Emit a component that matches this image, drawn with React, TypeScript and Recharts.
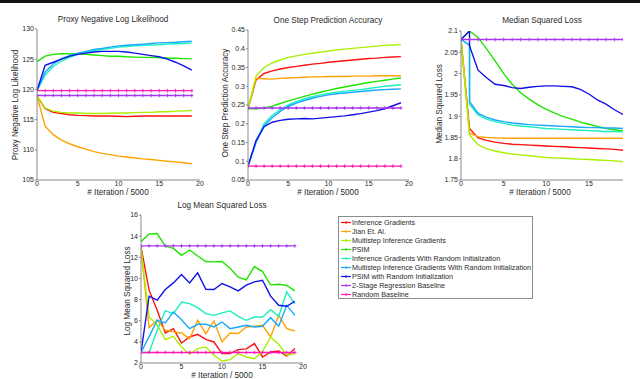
import { LineChart, Line, XAxis, YAxis, Legend } from 'recharts';

// x positions (iteration / 5000)
const ITER = [0, 1, 2, 3, 4, 5, 6, 7, 8, 9, 10, 11, 12, 13, 14, 15, 16, 17, 18, 19];
// median loss: the random-init runs drop straight down at x = 1
const ITER_STEP = [0, 1, 1, 2, 3, 4, 5, 6, 7, 8, 9, 10, 11, 12, 13, 14, 15, 16, 17, 18, 19];

const SERIES = [
  { key: 'ig', name: 'Inference Gradients', color: '#ff1010' },
  { key: 'jian', name: 'Jian Et. Al.', color: '#ffa200' },
  { key: 'mig', name: 'Multistep Inference Gradients', color: '#a8f000' },
  { key: 'psim', name: 'PSIM', color: '#20e400' },
  { key: 'igr', name: 'Inference Gradients With Random Initialization', color: '#18f0c0' },
  { key: 'migr', name: 'Multistep Inference Gradients With Random Initialization', color: '#18a8ff' },
  { key: 'psimr', name: 'PSIM with Random Initialization', color: '#1010e8' },
  { key: 'twostage', name: '2-Stage Regression Baseline', color: '#a836f0' },
  { key: 'random', name: 'Random Baseline', color: '#ff18b4' },
];

// Proxy Negative Log Likelihood
const NLL_IG = [118.9, 116.8, 116.2, 116.0, 115.8, 115.7, 115.65, 115.6, 115.6, 115.6, 115.55, 115.5, 115.55, 115.6, 115.6, 115.6, 115.6, 115.6, 115.6, 115.6];
const NLL_JIAN = [118.9, 113.9, 112.5, 111.6, 111.0, 110.5, 110.1, 109.7, 109.4, 109.2, 108.95, 108.8, 108.65, 108.5, 108.4, 108.25, 108.1, 108.0, 107.85, 107.7];
const NLL_MIG = [118.9, 116.9, 116.4, 116.2, 116.1, 116.1, 116.0, 116.0, 116.0, 116.05, 116.1, 116.1, 116.15, 116.2, 116.2, 116.3, 116.3, 116.4, 116.45, 116.5];
const NLL_PSIM = [124.6, 125.5, 125.8, 125.9, 125.9, 125.9, 125.8, 125.7, 125.6, 125.5, 125.5, 125.4, 125.35, 125.3, 125.3, 125.25, 125.2, 125.15, 125.1, 125.05];
const NLL_IGR = [119.8, 122.4, 123.8, 124.7, 125.3, 125.8, 126.1, 126.4, 126.6, 126.8, 127.0, 127.1, 127.2, 127.3, 127.35, 127.4, 127.5, 127.55, 127.6, 127.7];
const NLL_MIGR = [119.8, 122.9, 124.2, 125.1, 125.6, 126.0, 126.3, 126.6, 126.8, 127.0, 127.2, 127.3, 127.4, 127.5, 127.6, 127.7, 127.75, 127.8, 127.9, 128.0];
const NLL_PSIMR = [119.8, 124.0, 124.5, 125.0, 125.5, 125.8, 126.0, 126.2, 126.3, 126.3, 126.3, 126.2, 126.0, 125.8, 125.6, 125.4, 125.0, 124.5, 123.9, 123.2];
const NLL_TWOSTAGE = [119, 119, 119, 119, 119, 119, 119, 119, 119, 119, 119, 119, 119, 119, 119, 119, 119, 119, 119, 119];
const NLL_RANDOM = [119.8, 119.8, 119.8, 119.8, 119.8, 119.8, 119.8, 119.8, 119.8, 119.8, 119.8, 119.8, 119.8, 119.8, 119.8, 119.8, 119.8, 119.8, 119.8, 119.8];

// One Step Prediction Accuracy
const ACC_IG = [0.24, 0.317, 0.334, 0.341, 0.346, 0.35, 0.353, 0.356, 0.359, 0.361, 0.364, 0.366, 0.368, 0.37, 0.372, 0.374, 0.375, 0.377, 0.378, 0.379];
const ACC_JIAN = [0.24, 0.321, 0.32, 0.319, 0.321, 0.322, 0.323, 0.324, 0.325, 0.325, 0.326, 0.326, 0.326, 0.327, 0.327, 0.327, 0.328, 0.328, 0.328, 0.328];
const ACC_MIG = [0.24, 0.327, 0.35, 0.362, 0.37, 0.377, 0.381, 0.385, 0.388, 0.391, 0.394, 0.397, 0.399, 0.401, 0.403, 0.405, 0.407, 0.409, 0.41, 0.411];
const ACC_PSIM = [0.24, 0.24, 0.242, 0.247, 0.254, 0.261, 0.267, 0.273, 0.279, 0.284, 0.289, 0.294, 0.298, 0.302, 0.306, 0.31, 0.313, 0.316, 0.319, 0.322];
const ACC_IGR = [0.087, 0.152, 0.2, 0.222, 0.238, 0.25, 0.259, 0.266, 0.272, 0.277, 0.281, 0.284, 0.287, 0.289, 0.291, 0.294, 0.297, 0.3, 0.302, 0.304];
const ACC_MIGR = [0.087, 0.15, 0.194, 0.216, 0.233, 0.246, 0.255, 0.262, 0.268, 0.273, 0.277, 0.28, 0.282, 0.284, 0.286, 0.288, 0.29, 0.291, 0.292, 0.293];
const ACC_PSIMR = [0.087, 0.155, 0.192, 0.204, 0.209, 0.212, 0.213, 0.214, 0.213, 0.215, 0.217, 0.219, 0.221, 0.224, 0.227, 0.231, 0.235, 0.24, 0.248, 0.256];
const ACC_TWOSTAGE = [0.242, 0.242, 0.242, 0.242, 0.242, 0.242, 0.242, 0.242, 0.242, 0.242, 0.242, 0.242, 0.242, 0.242, 0.242, 0.242, 0.242, 0.242, 0.242, 0.242];
const ACC_RANDOM = [0.087, 0.087, 0.087, 0.087, 0.087, 0.087, 0.087, 0.087, 0.087, 0.087, 0.087, 0.087, 0.087, 0.087, 0.087, 0.087, 0.087, 0.087, 0.087, 0.087];

// Median Squared Loss
const MED_IG = [2.08, 1.871, 1.849, 1.843, 1.839, 1.836, 1.834, 1.833, 1.832, 1.831, 1.83, 1.829, 1.828, 1.827, 1.826, 1.825, 1.824, 1.823, 1.822, 1.82];
const MED_JIAN = [2.08, 1.86, 1.852, 1.85, 1.849, 1.848, 1.848, 1.848, 1.848, 1.848, 1.848, 1.848, 1.848, 1.848, 1.848, 1.848, 1.848, 1.848, 1.848, 1.848];
const MED_MIG = [2.08, 1.856, 1.833, 1.823, 1.818, 1.814, 1.811, 1.809, 1.807, 1.805, 1.803, 1.802, 1.801, 1.8, 1.799, 1.798, 1.797, 1.796, 1.795, 1.793];
const MED_PSIM = [2.08, 2.1, 2.085, 2.058, 2.03, 2.0, 1.975, 1.955, 1.94, 1.927, 1.916, 1.907, 1.899, 1.893, 1.886, 1.881, 1.876, 1.871, 1.868, 1.865];
const MED_IGR = [2.08, 2.067, 1.928, 1.903, 1.893, 1.887, 1.883, 1.879, 1.877, 1.875, 1.873, 1.871, 1.87, 1.869, 1.868, 1.867, 1.866, 1.865, 1.864, 1.864, 1.863];
const MED_MIGR = [2.08, 2.067, 1.934, 1.907, 1.897, 1.891, 1.887, 1.884, 1.882, 1.88, 1.879, 1.878, 1.877, 1.876, 1.875, 1.874, 1.873, 1.873, 1.872, 1.872, 1.871];
const MED_PSIMR = [2.08, 2.1, 2.065, 2.008, 1.99, 1.975, 1.972, 1.967, 1.965, 1.968, 1.97, 1.971, 1.971, 1.97, 1.969, 1.963, 1.952, 1.938, 1.928, 1.915, 1.904];
const MED_TWOSTAGE = [2.08, 2.08, 2.08, 2.08, 2.08, 2.08, 2.08, 2.08, 2.08, 2.08, 2.08, 2.08, 2.08, 2.08, 2.08, 2.08, 2.08, 2.08, 2.08, 2.08];

// Log Mean Squared Loss
const LOG_IG = [13.0, 8.89, 7.0, 4.84, 5.25, 3.89, 4.46, 4.71, 4.24, 3.99, 2.89, 2.89, 3.27, 3.33, 3.84, 2.57, 3.05, 3.14, 2.64, 3.37];
const LOG_JIAN = [12.84, 5.35, 6.04, 5.1, 4.94, 4.84, 4.3, 6.04, 4.78, 5.98, 3.99, 4.84, 4.78, 5.41, 5.47, 5.57, 4.46, 6.51, 5.25, 5.03];
const LOG_MIG = [12.84, 6.35, 5.57, 4.21, 4.52, 3.52, 2.83, 3.36, 3.52, 2.73, 2.19, 2.32, 2.89, 2.57, 2.41, 3.05, 4.46, 3.77, 2.73, 2.89];
const LOG_PSIM = [13.47, 14.2, 14.25, 13.06, 12.84, 12.18, 12.69, 12.12, 11.6, 11.57, 11.6, 10.97, 10.12, 9.86, 11.12, 10.65, 9.39, 9.45, 9.33, 8.82];
const LOG_IGR = [3.0, 3.0, 5.1, 6.93, 6.67, 7.77, 7.62, 7.24, 6.67, 6.51, 6.74, 6.93, 6.42, 6.04, 6.35, 6.35, 7.05, 6.42, 8.73, 7.56];
const LOG_MIGR = [3.0, 4.5, 6.06, 5.8, 6.83, 6.1, 5.25, 5.66, 5.66, 5.41, 5.88, 5.25, 5.41, 5.57, 5.41, 5.47, 6.29, 5.47, 7.46, 6.51];
const LOG_PSIMR = [3.0, 8.32, 7.94, 8.95, 9.58, 10.37, 9.58, 10.53, 8.98, 8.95, 9.52, 9.2, 8.82, 9.36, 9.67, 9.83, 8.32, 7.46, 7.37, 7.84];
const LOG_TWOSTAGE = [13.08, 13.08, 13.08, 13.08, 13.08, 13.08, 13.08, 13.08, 13.08, 13.08, 13.08, 13.08, 13.08, 13.08, 13.08, 13.08, 13.08, 13.08, 13.08, 13.08];
const LOG_RANDOM = [3.0, 3.0, 3.0, 3.0, 3.0, 3.0, 3.0, 3.0, 3.0, 3.0, 3.0, 3.0, 3.0, 3.0, 3.0, 3.0, 3.0, 3.0, 3.0, 3.0];

const X_TICKS = [0, 5, 10, 15, 20];
const X_TICKS_MED = [0, 5, 10, 15];
const NLL_TICKS = [105, 110, 115, 120, 125, 130];
const ACC_TICKS = [0.05, 0.1, 0.15, 0.2, 0.25, 0.3, 0.35, 0.4, 0.45];
const MED_TICKS = [1.75, 1.8, 1.85, 1.9, 1.95, 2, 2.05, 2.1];
const LOG_TICKS = [2, 4, 6, 8, 10, 12, 14, 16];

const FONT = '"Liberation Sans", Arial, Helvetica, sans-serif';
const AXIS_COLOR = '#8a8a8a';
const TEXT_COLOR = '#2a2a2a';
const MARKED = ['twostage', 'random'];

const pts = (ys: number[], xs: number[] = ITER) => ys.map((y, i) => ({ x: xs[i], y }));
const seriesIndex = (name: string) => SERIES.findIndex((s) => s.name === name);

const PlusDot = (props: any) => {
  const { cx, cy, stroke, index } = props;
  if (cx == null || cy == null) return <g key={index} />;
  return (
    <path
      key={index}
      d={`M${cx - 1.5},${cy}H${cx + 1.5}M${cx},${cy - 1.8}V${cy + 1.8}`}
      stroke={stroke}
      strokeWidth={0.9}
      fill="none"
    />
  );
};

type PanelSeries = { key: string; values: number[]; xs?: number[] };

type PanelProps = {
  left: number;
  top: number;
  width: number;
  height: number;
  margin: { top: number; right: number; bottom: number; left: number };
  yWidth: number;
  xHeight: number;
  xDomain: [number, number];
  xTicks: number[];
  yDomain: [number, number];
  yTicks: number[];
  lines: PanelSeries[];
  legend?: boolean;
};

const LegendBox = (props: any) => {
  // keep the plotting order, not the alphabetical one
  const payload = [...(props.payload || [])].sort((a: any, b: any) => seriesIndex(a.value) - seriesIndex(b.value));
  return (
    <div
      style={{
        width: 195,
        height: 83,
        boxSizing: 'border-box',
        border: '1px solid #8c8c8c',
        background: '#fff',
        padding: '0.5px 0 0 2px',
        fontFamily: FONT,
      }}
    >
      {payload.map((p: any) => (
        <div
          key={p.value}
          style={{ display: 'flex', alignItems: 'center', height: 9.1, fontSize: 7.2, color: TEXT_COLOR, whiteSpace: 'nowrap' }}
        >
          <svg width={11} height={9} style={{ flex: 'none' }}>
            <line x1={0} y1={4.5} x2={10} y2={4.5} stroke={p.color} strokeWidth={1.2} />
            <line x1={5} y1={3} x2={5} y2={6} stroke={p.color} strokeWidth={0.9} />
          </svg>
          <span>{p.value}</span>
        </div>
      ))}
    </div>
  );
};

const Panel = (p: PanelProps) => {
  const tickStyle = { fontSize: 7, fill: TEXT_COLOR, fontFamily: FONT };
  return (
    <div style={{ position: 'absolute', left: p.left, top: p.top }}>
      <LineChart width={p.width} height={p.height} margin={p.margin}>
        <XAxis
          type="number"
          dataKey="x"
          domain={p.xDomain}
          ticks={p.xTicks}
          height={p.xHeight}
          allowDataOverflow
          tick={tickStyle}
          tickLine={false}
          tickSize={0}
          tickMargin={1}
          stroke={AXIS_COLOR}
        />
        <YAxis
          type="number"
          domain={p.yDomain}
          ticks={p.yTicks}
          width={p.yWidth}
          allowDataOverflow
          interval={0}
          tick={tickStyle}
          tickLine={{ stroke: AXIS_COLOR }}
          tickSize={2}
          tickMargin={1}
          stroke={AXIS_COLOR}
        />
        {p.lines.map((l) => {
          const s = SERIES.find((x) => x.key === l.key)!;
          return (
            <Line
              key={l.key}
              name={s.name}
              data={pts(l.values, l.xs)}
              dataKey="y"
              type="linear"
              stroke={s.color}
              strokeWidth={1.4}
              dot={MARKED.includes(l.key) ? PlusDot : false}
              activeDot={false}
              isAnimationActive={false}
            />
          );
        })}
        {p.legend && (
          <Legend
            layout="horizontal"
            verticalAlign="middle"
            align="center"
            wrapperStyle={{ left: 238, top: 21, width: 195, height: 83 }}
            content={LegendBox}
          />
        )}
      </LineChart>
    </div>
  );
};

const Text = ({ x, y, children, rotate = false, size = 8.2 }: any) => (
  <div
    style={{
      position: 'absolute',
      left: x,
      top: y,
      transform: `translate(-50%, -50%)${rotate ? ' rotate(-90deg)' : ''}`,
      fontSize: size,
      fontFamily: FONT,
      color: TEXT_COLOR,
      whiteSpace: 'nowrap',
      lineHeight: 1,
    }}
  >
    {children}
  </div>
);

const App = () => {
  return (
    <div
      style={{
        position: 'fixed',
        left: 0,
        top: 0,
        width: 640,
        height: 379,
        background: '#fff',
        overflow: 'hidden',
      }}
    >
      <div style={{ position: 'absolute', left: 0, top: 0, width: 640, height: 3, background: '#111' }} />

      <Panel
        left={0}
        top={0}
        width={205}
        height={200}
        margin={{ top: 29, right: 5, bottom: 0, left: 0 }}
        yWidth={37}
        xHeight={20}
        xDomain={[0, 20]}
        xTicks={X_TICKS}
        yDomain={[105, 130]}
        yTicks={NLL_TICKS}
        lines={[
          { key: 'ig', values: NLL_IG },
          { key: 'jian', values: NLL_JIAN },
          { key: 'mig', values: NLL_MIG },
          { key: 'psim', values: NLL_PSIM },
          { key: 'igr', values: NLL_IGR },
          { key: 'migr', values: NLL_MIGR },
          { key: 'psimr', values: NLL_PSIMR },
          { key: 'twostage', values: NLL_TWOSTAGE },
          { key: 'random', values: NLL_RANDOM },
        ]}
      />
      <Panel
        left={205}
        top={0}
        width={209}
        height={200}
        margin={{ top: 30, right: 5, bottom: 0, left: 0 }}
        yWidth={43}
        xHeight={20}
        xDomain={[0, 20]}
        xTicks={X_TICKS}
        yDomain={[0.05, 0.45]}
        yTicks={ACC_TICKS}
        lines={[
          { key: 'ig', values: ACC_IG },
          { key: 'jian', values: ACC_JIAN },
          { key: 'mig', values: ACC_MIG },
          { key: 'psim', values: ACC_PSIM },
          { key: 'igr', values: ACC_IGR },
          { key: 'migr', values: ACC_MIGR },
          { key: 'psimr', values: ACC_PSIMR },
          { key: 'twostage', values: ACC_TWOSTAGE },
          { key: 'random', values: ACC_RANDOM },
        ]}
      />
      <Panel
        left={420}
        top={0}
        width={215}
        height={200}
        margin={{ top: 31, right: 12, bottom: 0, left: 0 }}
        yWidth={41}
        xHeight={20}
        xDomain={[0, 19]}
        xTicks={X_TICKS_MED}
        yDomain={[1.75, 2.1]}
        yTicks={MED_TICKS}
        lines={[
          { key: 'ig', values: MED_IG },
          { key: 'jian', values: MED_JIAN },
          { key: 'mig', values: MED_MIG },
          { key: 'psim', values: MED_PSIM },
          { key: 'igr', values: MED_IGR, xs: ITER_STEP },
          { key: 'migr', values: MED_MIGR, xs: ITER_STEP },
          { key: 'psimr', values: MED_PSIMR, xs: ITER_STEP },
          { key: 'twostage', values: MED_TWOSTAGE },
        ]}
      />
      <Panel
        left={100}
        top={195}
        width={540}
        height={184}
        margin={{ top: 20, right: 337, bottom: 0, left: 0 }}
        yWidth={41}
        xHeight={16}
        xDomain={[0, 20]}
        xTicks={X_TICKS}
        yDomain={[2, 16]}
        yTicks={LOG_TICKS}
        legend
        lines={[
          { key: 'ig', values: LOG_IG },
          { key: 'jian', values: LOG_JIAN },
          { key: 'mig', values: LOG_MIG },
          { key: 'psim', values: LOG_PSIM },
          { key: 'igr', values: LOG_IGR },
          { key: 'migr', values: LOG_MIGR },
          { key: 'psimr', values: LOG_PSIMR },
          { key: 'twostage', values: LOG_TWOSTAGE },
          { key: 'random', values: LOG_RANDOM },
        ]}
      />

      <Text x={113} y={20}>Proxy Negative Log Likelihood</Text>
      <Text x={328} y={21}>One Step Prediction Accuracy</Text>
      <Text x={542} y={21}>Median Squared Loss</Text>
      <Text x={222} y={206}>Log Mean Squared Loss</Text>

      <Text x={16} y={105} rotate>Proxy Negative Log Likelihood</Text>
      <Text x={226} y={103} rotate>One Step Prediction Accuracy</Text>
      <Text x={440} y={104} rotate>Median Squared Loss</Text>
      <Text x={128} y={291} rotate>Log Mean Squared Loss</Text>

      <Text x={118} y={193}>{'# Iteration / 5000'}</Text>
      <Text x={328} y={193}>{'# Iteration / 5000'}</Text>
      <Text x={540} y={193}>{'# Iteration / 5000'}</Text>
      <Text x={222} y={376}>{'# Iteration / 5000'}</Text>
    </div>
  );
};

export default App;
